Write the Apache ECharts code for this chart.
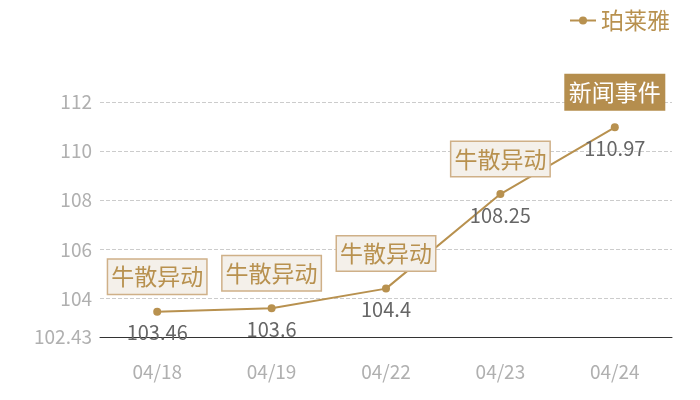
<!DOCTYPE html>
<html>
<head>
<meta charset="utf-8">
<script src="https://cdn.jsdelivr.net/npm/echarts@6/dist/echarts.min.js"></script>
<style>
  html, body { margin: 0; padding: 0; background: #fff; }
  #chart-container { width: 700px; height: 400px; }
</style>
</head>
<body>
<div id="chart-container"></div>
<script>
let dates = ['04/18', '04/19', '04/22', '04/23', '04/24'];
let prices = [103.46, 103.6, 104.4, 108.25, 110.97];
let events = ['牛散异动', '牛散异动', '牛散异动', '牛散异动', '新闻事件'];
let seriesName = '珀莱雅';
let yMin = 102.43;
let yMax = 112;

function init() {
  let font = "'Noto Sans CJK SC', 'Noto Sans', sans-serif";
  let gold = '#b8914f';

  let eventPoints = events.map((ev, i) => {
    let isNews = ev === '新闻事件';
    return {
      coord: [dates[i], prices[i]],
      value: ev,
      label: {
        backgroundColor: isNews ? '#b58e4e' : '#f4f0ea',
        borderColor: isNews ? '#b58e4e' : '#cfb088',
        color: isNews ? '#fff' : gold
      }
    };
  });

  let option = {
    textStyle: { fontFamily: font },
    legend: {
      right: 25,
      top: 4,
      itemWidth: 26,
      itemHeight: 10,
      itemGap: 6,
      textStyle: { color: gold, fontSize: 23, fontFamily: font },
      data: [seriesName]
    },
    grid: { left: 100, right: 28, top: 102, bottom: 63 },
    xAxis: {
      type: 'category',
      data: dates,
      axisLine: { lineStyle: { color: '#333', width: 1 } },
      axisTick: { show: false },
      axisLabel: { color: '#b0b0b0', fontSize: 19, margin: 25, fontFamily: font }
    },
    yAxis: {
      type: 'value',
      min: yMin,
      max: yMax,
      axisLine: { show: false },
      axisTick: { show: false },
      axisLabel: { color: '#b0b0b0', fontSize: 19, margin: 8, fontFamily: font },
      splitLine: { lineStyle: { color: '#cccccc', type: 'dashed', width: 1 } }
    },
    series: [{
      name: seriesName,
      type: 'line',
      data: prices,
      symbol: 'circle',
      symbolSize: 8,
      itemStyle: { color: gold },
      lineStyle: { color: gold, width: 2 },
      label: {
        show: true,
        position: 'bottom',
        distance: 7,
        color: '#666',
        fontSize: 20,
        fontFamily: font
      },
      markPoint: {
        symbol: 'rect',
        symbolSize: 0,
        label: {
          show: true,
          position: 'inside',
          offset: [0, -35],
          formatter: '{c}',
          fontSize: 23,
          lineHeight: 30,
          padding: [2, 3],
          borderWidth: 1.5,
          fontFamily: font
        },
        data: eventPoints
      }
    }]
  };

  var myChart = echarts.init(document.getElementById('chart-container'));
  myChart.setOption(option);
  window.addEventListener('resize', myChart.resize);
}
init();
</script>
</body>
</html>
